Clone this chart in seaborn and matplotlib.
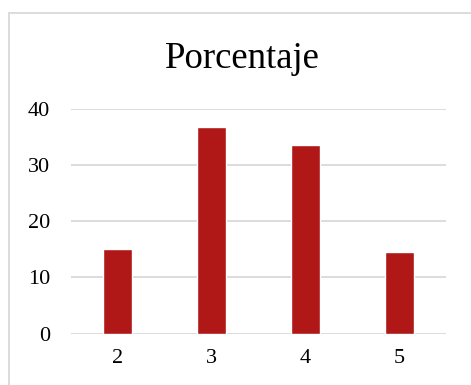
import pandas as pd
import matplotlib
matplotlib.use('Agg')
import matplotlib.pyplot as plt
import seaborn as sns
from matplotlib.lines import Line2D

# Data
categorias = ['2', '3', '4', '5']
porcentaje = [15.0, 36.8, 33.6, 14.5]
y_ticks = [0, 10, 20, 30, 40]

df = pd.DataFrame({'categoria': categorias, 'porcentaje': porcentaje})

sns.set_theme(style='white')
plt.rcParams['font.family'] = ['Liberation Serif', 'DejaVu Serif']

fig = plt.figure(figsize=(4.71, 3.85), dpi=100)
ax = fig.add_axes([0.1501, 0.1332, 0.7968, 0.5845])

sns.barplot(data=df, x='categoria', y='porcentaje', color='#B01717',
            saturation=1, width=0.31, ax=ax)

ax.set_ylim(0, 40)
ax.set_xlim(-0.5, 3.5)
ax.set_yticks(y_ticks)
ax.yaxis.grid(True, color='#D9D9D9', linewidth=1.3)
ax.set_axisbelow(True)
for s in ax.spines.values():
    s.set_visible(False)
ax.set_xlabel('')
ax.set_ylabel('')
ax.tick_params(axis='both', length=0, labelsize=16, colors='black')
ax.tick_params(axis='y', pad=15)
ax.tick_params(axis='x', pad=11)

fig.text(0.514, 0.848, 'Porcentaje', ha='center', va='center',
         fontsize=26.5, color='black')

# chart area border (top and left edges visible)
fig.add_artist(Line2D([8.5 / 471, 8.5 / 471], [0, 1 - 13 / 385],
                      transform=fig.transFigure, color='#D9D9D9', linewidth=1.3))
fig.add_artist(Line2D([8.5 / 471, 1], [1 - 13 / 385, 1 - 13 / 385],
                      transform=fig.transFigure, color='#D9D9D9', linewidth=1.3))

fig.savefig('out.png', dpi=100)
